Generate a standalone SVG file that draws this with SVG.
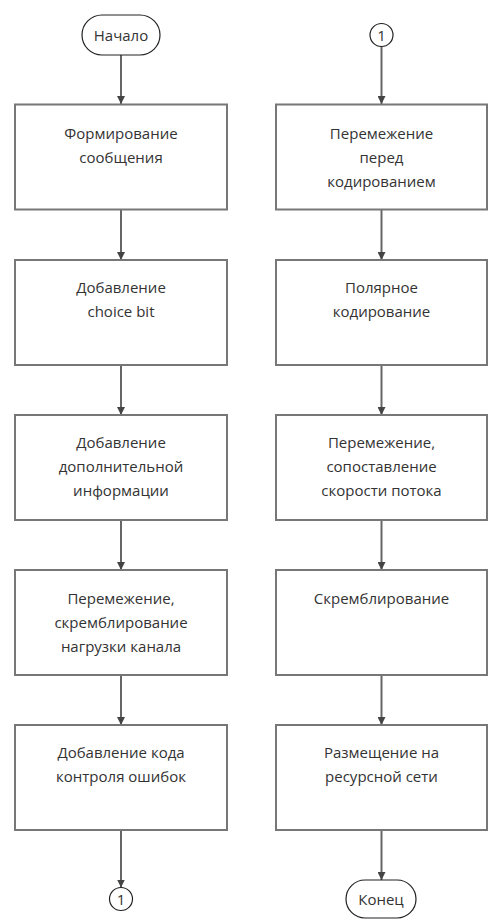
<svg xmlns="http://www.w3.org/2000/svg" width="494" height="924" viewBox="0 0 494 924">
<defs>
<marker id="arr" markerWidth="8" markerHeight="8" refX="8" refY="4" orient="auto" markerUnits="userSpaceOnUse">
<path d="M0,0 L8,4 L0,8 Z" fill="#444"/>
</marker>
<style>
.box{fill:#fff;stroke:#777;stroke-width:2}
.term{fill:#fff;stroke:#222;stroke-width:1.2}
.t{font-family:"Open Sans","DejaVu Sans",sans-serif;font-size:15px;fill:#333;text-anchor:middle;dominant-baseline:central}
.c{stroke:#666;stroke-width:2;fill:none;marker-end:url(#arr)}
</style>
</defs>
<rect width="494" height="924" fill="#fff"/>
<g id="connectors">
<line class="c" x1="121" y1="55" x2="121" y2="104"/>
<line class="c" x1="121" y1="210" x2="121" y2="260"/>
<line class="c" x1="121" y1="365" x2="121" y2="415"/>
<line class="c" x1="121" y1="520" x2="121" y2="570"/>
<line class="c" x1="121" y1="675" x2="121" y2="725"/>
<line class="c" x1="121" y1="830" x2="121" y2="887.5"/>
<line class="c" x1="381.5" y1="46.5" x2="381.5" y2="104"/>
<line class="c" x1="381.5" y1="210" x2="381.5" y2="260"/>
<line class="c" x1="381.5" y1="365" x2="381.5" y2="415"/>
<line class="c" x1="381.5" y1="520" x2="381.5" y2="570"/>
<line class="c" x1="381.5" y1="675" x2="381.5" y2="725"/>
<line class="c" x1="381.5" y1="830" x2="381.5" y2="880"/>
</g>
<g id="start"><rect class="term" x="82" y="15" width="78" height="40" rx="20"/><text class="t" x="121" y="35">Начало</text></g>
<g id="l1"><rect class="box" x="15" y="104.5" width="212" height="105"/><text class="t" x="121" y="133">Формирование</text><text class="t" x="121" y="157">сообщения</text></g>
<g id="l2"><rect class="box" x="15" y="260" width="212" height="105"/><text class="t" x="121" y="287">Добавление</text><text class="t" x="121" y="311">choice bit</text></g>
<g id="l3"><rect class="box" x="15" y="415" width="212" height="105"/><text class="t" x="121" y="442">Добавление</text><text class="t" x="121" y="466">дополнительной</text><text class="t" x="121" y="490">информации</text></g>
<g id="l4"><rect class="box" x="15" y="570" width="212" height="105"/><text class="t" x="121" y="598">Перемежение,</text><text class="t" x="121" y="622">скремблирование</text><text class="t" x="121" y="646">нагрузки канала</text></g>
<g id="l5"><rect class="box" x="15" y="725" width="212" height="105"/><text class="t" x="121" y="752">Добавление кода</text><text class="t" x="121" y="776">контроля ошибок</text></g>
<g id="conn-out"><circle class="term" cx="121" cy="899" r="11.5"/><text class="t" x="121" y="899">1</text></g>
<g id="conn-in"><circle class="term" cx="381.5" cy="35" r="11.5"/><text class="t" x="381.5" y="35">1</text></g>
<g id="r1"><rect class="box" x="276" y="104.5" width="211" height="105"/><text class="t" x="381.5" y="133">Перемежение</text><text class="t" x="381.5" y="157">перед</text><text class="t" x="381.5" y="181">кодированием</text></g>
<g id="r2"><rect class="box" x="276" y="260" width="211" height="105"/><text class="t" x="381.5" y="287">Полярное</text><text class="t" x="381.5" y="311">кодирование</text></g>
<g id="r3"><rect class="box" x="276" y="415" width="211" height="105"/><text class="t" x="381.5" y="442">Перемежение,</text><text class="t" x="381.5" y="466">сопоставление</text><text class="t" x="381.5" y="490">скорости потока</text></g>
<g id="r4"><rect class="box" x="276" y="570" width="211" height="105"/><text class="t" x="381.5" y="598">Скремблирование</text></g>
<g id="r5"><rect class="box" x="276" y="725" width="211" height="105"/><text class="t" x="381.5" y="752">Размещение на</text><text class="t" x="381.5" y="776">ресурсной сети</text></g>
<g id="end"><rect class="term" x="346" y="880" width="70" height="38" rx="19"/><text class="t" x="381" y="899">Конец</text></g>
</svg>
